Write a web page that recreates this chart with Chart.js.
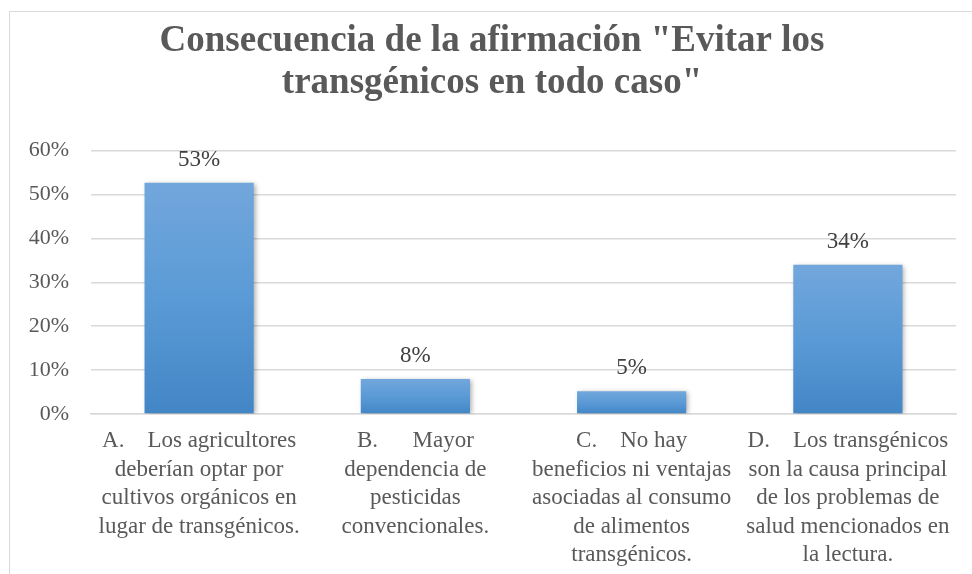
<!DOCTYPE html>
<html lang="es">
<head>
<meta charset="UTF-8">
<title>Consecuencia de la afirmación</title>
<script src="https://cdn.jsdelivr.net/npm/chart.js@4"></script>
<style>
    html, body { margin: 0; padding: 0; background: #ffffff; overflow: hidden; }
    #marco { position: absolute; left: 9px; top: 11px; width: 1000px; height: 700px; border: 1px solid #d9d9d9; }
    #grafico { position: absolute; left: 0; top: 0; }
</style>
</head>
<body>
<div id="marco"></div>
<canvas id="grafico" width="972" height="574"></canvas>
<script>
// datos del gráfico
const titulo = ['Consecuencia de la afirmación "Evitar los', 'transgénicos en todo caso"'];
const categorias = [
    ['A.    Los agricultores', 'deberían optar por', 'cultivos orgánicos en', 'lugar de transgénicos.'],
    ['B.      Mayor', 'dependencia de', 'pesticidas', 'convencionales.'],
    ['C.    No hay', 'beneficios ni ventajas', 'asociadas al consumo', 'de alimentos', 'transgénicos.'],
    ['D.    Los transgénicos', 'son la causa principal', 'de los problemas de', 'salud mencionados en', 'la lectura.']
];
const valores = [0.527, 0.08, 0.052, 0.34];
const ticksY = [0, 0.1, 0.2, 0.3, 0.4, 0.5, 0.6];

const fuente = "'Liberation Serif', 'Times New Roman', serif";
const gris = '#595959';

// porcentaje sin decimales
function porcentaje(v) {
    return Math.round(v * 100) + '%';
}

// degradado de cada barra (de arriba hacia abajo)
function colorBarra(context) {
    const chart = context.chart;
    const y = chart.scales.y;
    if (!chart.chartArea || !y) {
        return '#5b9bd5';
    }
    const arriba = y.getPixelForValue(context.raw);
    const abajo = y.getPixelForValue(0);
    const g = chart.ctx.createLinearGradient(0, arriba, 0, abajo);
    g.addColorStop(0, '#72a7dc');
    g.addColorStop(0.5, '#5a9ad6');
    g.addColorStop(1, '#4386c6');
    return g;
}

// sombra de las barras y etiquetas de valor
const pluginBarras = {
    id: 'pluginBarras',
    beforeDatasetsDraw(chart) {
        const ctx = chart.ctx;
        ctx.save();
        ctx.shadowColor = 'rgba(0, 0, 0, 0.35)';
        ctx.shadowBlur = 5;
        ctx.shadowOffsetX = 2;
        ctx.shadowOffsetY = 1;
    },
    afterDatasetsDraw(chart) {
        const ctx = chart.ctx;
        ctx.restore();
        ctx.save();
        ctx.font = '23px ' + fuente;
        ctx.fillStyle = '#404040';
        ctx.textAlign = 'center';
        ctx.textBaseline = 'alphabetic';
        chart.getDatasetMeta(0).data.forEach((barra, i) => {
            ctx.fillText(porcentaje(valores[i]), barra.x, barra.y - 17);
        });
        ctx.restore();
    }
};

const ctx = document.getElementById('grafico').getContext('2d');
const chart = new Chart(ctx, {
    type: 'bar',
    data: {
        labels: categorias,
        datasets: [{
            data: valores,
            backgroundColor: colorBarra,
            borderWidth: 0,
            categoryPercentage: 1,
            barPercentage: 0.505
        }]
    },
    options: {
        responsive: false,
        animation: false,
        layout: { padding: { left: 28, right: 16, top: 0, bottom: 0 } },
        plugins: {
            legend: { display: false },
            tooltip: { enabled: false },
            title: {
                display: true,
                text: titulo,
                color: gris,
                font: { family: fuente, size: 37, weight: 'bold', lineHeight: 1.13 },
                padding: { top: 21, bottom: 46 }
            }
        },
        scales: {
            x: {
                grid: { display: false, drawTicks: false },
                border: { display: true, color: '#d9d9d9', width: 1.5 },
                ticks: {
                    color: gris,
                    font: { family: fuente, size: 23, lineHeight: 1.24 },
                    padding: 13,
                    maxRotation: 0,
                    autoSkip: false
                },
                afterFit(axis) {
                    axis.height = 160; // alto fijo del eje de categorías
                }
            },
            y: {
                min: 0,
                max: 0.6,
                afterBuildTicks(axis) {
                    axis.ticks = ticksY.map(v => ({ value: v }));
                },
                grid: { color: '#d9d9d9', lineWidth: 1.5, drawTicks: false },
                border: { display: false },
                ticks: {
                    color: gris,
                    font: { family: fuente, size: 22 },
                    padding: 22,
                    callback: v => porcentaje(v)
                },
                afterFit(axis) {
                    axis.width = 63; // ancho fijo del eje de valores
                }
            }
        }
    },
    plugins: [pluginBarras]
});
</script>
</body>
</html>
